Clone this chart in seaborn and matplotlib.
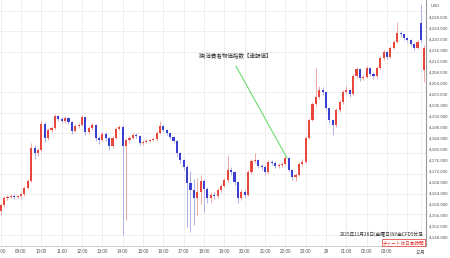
import numpy as np
import pandas as pd
import matplotlib
matplotlib.use("Agg")
import matplotlib.pyplot as plt
import seaborn as sns
from matplotlib.ticker import MultipleLocator, FixedLocator

# ---- data (10-minute candles, index 0 = 08:00 on 2025-11-28) ----
opens = [4157.5, 4159.5, 4162.2, 4162.5, 4162.9, 4162.5, 4162.9, 4163.6, 4165.8, 4168.4,
         4180.4, 4178.5, 4179.6, 4189.1, 4184.0, 4186.9, 4187.6, 4192.0, 4190.9, 4190.2,
         4191.3, 4189.8, 4186.5, 4188.4, 4188.7, 4191.6, 4186.2, 4187.6, 4188.7, 4184.0,
         4183.3, 4185.5, 4184.0, 4181.1, 4184.0, 4187.3, 4188.0, 4181.1, 4183.3, 4184.0,
         4185.1, 4184.7, 4182.2, 4182.5, 4182.9, 4183.3, 4183.6, 4185.8, 4188.4, 4186.9,
         4185.8, 4184.4, 4182.9, 4178.5, 4176.0, 4173.5, 4167.6, 4165.1, 4162.2, 4164.4,
         4168.4, 4165.5, 4162.2, 4163.3, 4162.9, 4165.1, 4166.5, 4168.7, 4172.4, 4171.6,
         4168.0, 4162.2, 4164.4, 4163.3, 4171.6, 4175.6, 4176.0, 4173.8, 4173.5, 4171.6,
         4175.3, 4174.9, 4173.8, 4174.2, 4174.5, 4176.7, 4172.4, 4169.8, 4170.5, 4174.5,
         4175.3, 4184.0, 4190.5, 4196.4, 4198.9, 4201.5, 4200.7, 4194.9, 4190.5, 4188.7,
         4194.2, 4197.1, 4200.7, 4201.5, 4200.0, 4206.5, 4209.1, 4205.8, 4206.2, 4209.5,
         4207.3, 4206.5, 4209.5, 4213.1, 4215.3, 4213.5, 4216.7, 4218.9, 4222.2, 4221.8,
         4220.4, 4219.6, 4218.2, 4216.7, 4225.8, 4208.7]
closes = [4159.5, 4162.2, 4162.5, 4162.9, 4162.5, 4162.9, 4163.6, 4165.8, 4168.4, 4180.4,
          4178.5, 4179.6, 4189.1, 4184.0, 4186.9, 4187.6, 4192.0, 4190.9, 4190.2, 4191.3,
          4189.8, 4186.5, 4188.4, 4188.7, 4191.6, 4186.2, 4187.6, 4188.7, 4184.0, 4183.3,
          4185.5, 4184.0, 4181.1, 4184.0, 4187.3, 4188.0, 4181.1, 4183.3, 4184.0, 4185.1,
          4184.7, 4182.2, 4182.5, 4182.9, 4183.3, 4183.6, 4185.8, 4188.4, 4186.9, 4185.8,
          4184.4, 4182.9, 4178.5, 4176.0, 4173.5, 4167.6, 4165.1, 4162.2, 4164.4, 4168.4,
          4165.5, 4162.2, 4163.3, 4162.9, 4165.1, 4166.5, 4168.7, 4172.4, 4171.6, 4168.0,
          4162.2, 4164.4, 4163.3, 4171.6, 4175.6, 4176.0, 4173.8, 4173.5, 4171.6, 4175.3,
          4174.9, 4173.8, 4174.2, 4174.5, 4176.7, 4172.4, 4169.8, 4170.5, 4174.5, 4175.3,
          4184.0, 4190.5, 4196.4, 4198.9, 4201.5, 4200.7, 4194.9, 4190.5, 4188.7, 4194.2,
          4197.1, 4200.7, 4201.5, 4200.0, 4206.5, 4209.1, 4205.8, 4206.2, 4209.5, 4207.3,
          4206.5, 4209.5, 4213.1, 4215.3, 4213.5, 4216.7, 4218.9, 4222.2, 4221.8, 4220.4,
          4219.6, 4218.2, 4216.7, 4218.9, 4219.6, 4216.7]
highs = [4160.5, 4163.0, 4163.3, 4163.6, 4163.5, 4163.4, 4164.3, 4166.5, 4169.2, 4182.0,
         4181.5, 4180.5, 4190.0, 4189.8, 4187.8, 4188.5, 4192.8, 4192.5, 4191.5, 4192.0,
         4191.8, 4190.2, 4189.0, 4189.5, 4192.4, 4192.0, 4188.5, 4189.5, 4189.2, 4184.8,
         4186.3, 4186.0, 4184.5, 4184.8, 4188.0, 4188.8, 4188.6, 4184.0, 4184.8, 4185.8,
         4185.8, 4185.0, 4183.3, 4183.6, 4183.8, 4184.3, 4186.5, 4190.0, 4188.8, 4187.3,
         4186.2, 4184.8, 4183.3, 4179.0, 4176.5, 4174.0, 4172.0, 4169.0, 4169.5, 4170.5,
         4169.0, 4166.0, 4164.5, 4164.4, 4165.8, 4167.3, 4169.5, 4177.8, 4173.5, 4172.0,
         4168.5, 4165.3, 4165.0, 4172.4, 4176.4, 4178.5, 4176.5, 4174.5, 4174.0, 4176.0,
         4176.0, 4175.5, 4174.8, 4175.3, 4177.5, 4177.0, 4172.8, 4171.3, 4175.3, 4176.5,
         4184.8, 4191.3, 4197.1, 4209.5, 4203.0, 4202.5, 4201.2, 4195.3, 4191.0, 4195.0,
         4197.8, 4201.5, 4203.0, 4202.0, 4207.3, 4210.0, 4209.5, 4207.0, 4210.3, 4210.0,
         4208.0, 4210.3, 4213.8, 4216.0, 4215.8, 4217.4, 4219.6, 4226.2, 4222.8, 4222.2,
         4220.8, 4220.0, 4218.6, 4219.6, 4232.4, 4217.8]
lows = [4156.0, 4159.0, 4161.5, 4162.0, 4161.8, 4162.0, 4162.3, 4163.0, 4165.3, 4168.0,
        4176.5, 4177.5, 4179.0, 4182.5, 4183.3, 4186.0, 4187.0, 4190.0, 4189.3, 4189.5,
        4189.0, 4185.5, 4186.0, 4187.8, 4188.2, 4185.0, 4185.5, 4187.0, 4183.0, 4181.8,
        4182.8, 4183.0, 4179.8, 4180.5, 4183.5, 4186.8, 4148.7, 4154.2, 4182.5, 4183.5,
        4184.0, 4181.5, 4181.5, 4182.0, 4182.4, 4182.8, 4183.0, 4185.3, 4186.2, 4185.0,
        4183.6, 4182.0, 4177.5, 4175.0, 4172.5, 4151.6, 4149.8, 4152.4, 4156.0, 4160.0,
        4157.0, 4160.5, 4160.8, 4161.8, 4162.3, 4164.5, 4166.0, 4168.0, 4170.5, 4167.0,
        4160.5, 4161.5, 4162.0, 4162.8, 4171.0, 4174.8, 4173.0, 4172.5, 4170.5, 4171.0,
        4174.0, 4173.0, 4173.2, 4173.6, 4174.0, 4171.5, 4168.7, 4168.4, 4170.0, 4173.8,
        4174.8, 4183.5, 4190.0, 4195.5, 4198.0, 4199.5, 4194.0, 4189.5, 4185.1, 4188.0,
        4193.5, 4196.5, 4200.0, 4199.0, 4199.5, 4206.0, 4204.8, 4205.0, 4205.8, 4206.5,
        4205.5, 4206.0, 4209.0, 4212.5, 4212.8, 4213.0, 4216.2, 4218.5, 4220.8, 4219.6,
        4218.8, 4217.5, 4216.0, 4216.3, 4218.9, 4204.4]

hour_ticks = [0, 6, 12, 18, 24, 30, 36, 42, 48, 54, 60, 66, 72, 78, 84, 90, 96, 102, 108, 114, 120, 124]
hour_labels = ["08:00", "09:00", "10:00", "11:00", "12:00", "13:00", "14:00", "15:00", "16:00",
               "17:00", "18:00", "19:00", "20:00", "21:00", "22:00", "23:00", "29", "01:00",
               "02:00", "03:00", "", "12月"]
price_ticks = [4148, 4152, 4156, 4160, 4164, 4168, 4172, 4176, 4180, 4184, 4188, 4192,
               4196, 4200, 4204, 4208, 4212, 4216, 4220, 4224, 4228]
event_label = "独)消費者物価指数【速報値】"
event_from = (69.4, 4210.2)
event_to = (84.5, 4176.7)

df = pd.DataFrame({"open": opens, "high": highs, "low": lows, "close": closes})
df["t"] = np.arange(len(df))
df["up"] = df["close"] >= df["open"]

sns.set_theme(style="white")
plt.rcParams['font.family'] = ['Noto Sans CJK JP', 'DejaVu Sans']
tick_family = ['Liberation Sans', 'Noto Sans CJK JP']

fig = plt.figure(figsize=(4.5, 2.58), dpi=100)
ax = fig.add_axes([0, 1 - 246 / 258, 426 / 450, 246 / 258])

up_body, dn_body = "#e8473d", "#3a3fcf"
up_wick, dn_wick = "#f0a8a6", "#aeb0e6"

ax.vlines(df["t"], df["low"], df["high"],
          colors=[up_wick if u else dn_wick for u in df["up"]], linewidth=0.7, zorder=2)
ax.bar(df["t"], df["close"] - df["open"], bottom=df["open"], width=0.62,
       color=[up_body if u else dn_body for u in df["up"]], linewidth=0, zorder=3)

ax.set_xlim(-0.2, 125.5)
ax.set_ylim(4144.7, 4234.2)

ax.xaxis.set_major_locator(FixedLocator(hour_ticks))
ax.set_xticklabels(hour_labels)
ax.yaxis.tick_right()
ax.yaxis.set_major_locator(FixedLocator(price_ticks))
ax.set_yticklabels([f"{p:,.3f}" for p in price_ticks])
ax.yaxis.set_minor_locator(MultipleLocator(7.4, offset=4.8))
ax.tick_params(axis="y", which="both", length=0, pad=2.2, labelsize=3.2, colors="#555555")
ax.tick_params(axis="x", length=0, pad=2.5, labelsize=3.3, colors="#555555")
for lab in ax.get_yticklabels() + ax.get_xticklabels():
    lab.set_family(tick_family)

ax.grid(False)
ax.xaxis.grid(True, which="major", color="#ececec", linewidth=0.6)
ax.yaxis.grid(True, which="minor", color="#ececec", linewidth=0.6)

for s in ["left", "top"]:
    ax.spines[s].set_visible(False)
ax.spines["right"].set_color("#9a9a9a")
ax.spines["right"].set_linewidth(0.8)
ax.spines["bottom"].set_color("#c8c8c8")
ax.spines["bottom"].set_linewidth(0.6)

fig.text(431 / 450, 1 - 6 / 258, "USD", fontsize=3.2, color="#555555", va="center", ha="left",
         family=tick_family)

ax.plot([event_from[0], event_to[0]], [event_from[1], event_to[1]], color="#6ddc6d",
        linewidth=0.8, zorder=4)
ax.text(event_from[0], 4212.6, event_label, fontsize=4.0, color="#333333",
        ha="center", va="bottom", zorder=5)

ax.text(0.995, 0.035, "2025年11月28日(金曜日)NY金CFD5分足", transform=ax.transAxes,
        fontsize=3.4, color="#333333", ha="right", va="bottom")
ax.text(0.995, 0.004, "チャートは日本時間", transform=ax.transAxes,
        fontsize=3.3, color="#e0302a", ha="right", va="bottom",
        bbox=dict(boxstyle="square,pad=0.15", fc="white", ec="#e0302a", lw=0.5))

fig.savefig("out.png", dpi=100)
